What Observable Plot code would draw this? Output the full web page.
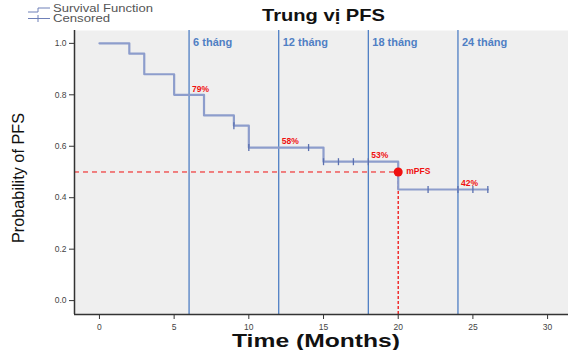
<!DOCTYPE html>
<html>
<head>
<meta charset="utf-8">
<script src="https://cdn.jsdelivr.net/npm/d3@7"></script>
<script src="https://cdn.jsdelivr.net/npm/@observablehq/plot@0.6"></script>
<style>
  html, body { margin: 0; padding: 0; background: #fff; }
  #chart { position: relative; width: 568px; height: 350px; overflow: hidden; }
  svg { font-family: "Liberation Sans", Arial, sans-serif; }
</style>
</head>
<body>
<div id="chart"></div>
<script>
// Kaplan-Meier step data (time in months, survival probability)
const stepTimes = [0, 2, 3, 5, 7, 9, 10, 15, 20, 26];
const stepProbs = [1.0, 0.96, 0.88, 0.80, 0.72, 0.68, 0.595, 0.54, 0.432, 0.432];
// Censored observations
const censorTimes = [9, 10, 14, 15, 16, 17, 18, 22, 24, 25, 26];
const censorProbs = [0.68, 0.595, 0.595, 0.54, 0.54, 0.54, 0.54, 0.432, 0.432, 0.432, 0.432];
// Reference month lines
const monthLines = [6, 12, 18, 24];
const monthLabels = ["6 tháng", "12 tháng", "18 tháng", "24 tháng"];
// Percent annotations
const pctTimes = [6, 12, 18, 24];
const pctProbs = [0.80, 0.595, 0.54, 0.432];
const pctLabels = ["79%", "58%", "53%", "42%"];
// Median PFS
const medianTime = 20;
const medianProb = 0.5;
const xTicks = [0, 5, 10, 15, 20, 25, 30];
const yTicks = [0, 0.2, 0.4, 0.6, 0.8, 1.0];

const xDomain = [-1.67, 31.4];
const yDomain = [-0.054, 1.05];

const steps = stepTimes.map((t, i) => ({t, p: stepProbs[i]}));
const censors = censorTimes.map((t, i) => ({t, p: censorProbs[i]}));
const months = monthLines.map((t, i) => ({t, label: monthLabels[i]}));
const pcts = pctTimes.map((t, i) => ({t, p: pctProbs[i], label: pctLabels[i]}));

const vtick = {draw(ctx, size) { const h = 3.5; ctx.moveTo(0, -h); ctx.lineTo(0, h); }};

const stepColor = "#8d9dcc";
const blue = "#4f7fc4";
const red = "#f01010";

const plot = Plot.plot({
  width: 568,
  height: 350,
  marginLeft: 74,
  marginRight: 0,
  marginTop: 30,
  marginBottom: 36,
  x: {domain: xDomain},
  y: {domain: yDomain},
  style: {fontFamily: "Liberation Sans, Arial, sans-serif", background: "#fff"},
  marks: [
    Plot.frame({fill: "#efefef", stroke: "none"}),
    Plot.ruleX(monthLines, {stroke: blue, strokeWidth: 1.3}),
    Plot.ruleY([medianProb], {x1: xDomain[0], x2: medianTime, stroke: red, strokeDasharray: "5,4", strokeWidth: 1}),
    Plot.ruleX([medianTime], {y1: yDomain[0], y2: medianProb, stroke: red, strokeDasharray: "3,2", strokeWidth: 1.3}),
    Plot.line(steps, {x: "t", y: "p", curve: "step-after", stroke: stepColor, strokeWidth: 2.2}),
    Plot.dot(censors, {x: "t", y: "p", symbol: vtick, stroke: "#5a70b0", strokeWidth: 1.3, fill: "none", r: 4}),
    Plot.dot([{t: medianTime, p: medianProb}], {x: "t", y: "p", r: 4.5, fill: red, stroke: "none"}),
    Plot.text([{t: medianTime, p: medianProb, label: "mPFS"}], {x: "t", y: "p", text: "label", dx: 8, dy: -1, textAnchor: "start", fill: red, fontWeight: "bold", fontSize: 8.5}),
    Plot.text(pcts, {x: "t", y: "p", text: "label", dx: 3, dy: -6, textAnchor: "start", fill: red, fontWeight: "bold", fontSize: 8.5}),
    Plot.text(months, {x: "t", text: "label", frameAnchor: "top", dx: 4, dy: 8, textAnchor: "start", fill: blue, fontWeight: "bold", fontSize: 11}),
    Plot.ruleX([xDomain[0]], {stroke: "#333", strokeWidth: 1.5}),
    Plot.ruleY([yDomain[0]], {stroke: "#333", strokeWidth: 1.5}),
    Plot.axisX({ticks: xTicks, tickSize: 5, tickPadding: 4, fontSize: 8.5, color: "#444", stroke: "#333", label: null}),
    Plot.axisY({ticks: yTicks, tickSize: 5, tickPadding: 3, fontSize: 8.5, color: "#444", stroke: "#333", tickFormat: d3.format(".1f"), label: null})
  ]
});

document.getElementById("chart").appendChild(plot);

const svg = d3.select(plot);
const ann = svg.append("g").attr("font-family", "Liberation Sans, Arial, sans-serif").attr("text-anchor", "start");

// Title
ann.append("text").attr("x", 262).attr("y", 21).attr("font-size", 17).attr("font-weight", "bold").attr("fill", "#111")
  .attr("textLength", 123).attr("lengthAdjust", "spacingAndGlyphs").text("Trung vị PFS");
// X axis title
ann.append("text").attr("x", 232).attr("y", 347).attr("font-size", 19).attr("font-weight", "bold").attr("fill", "#111")
  .attr("textLength", 168).attr("lengthAdjust", "spacingAndGlyphs").text("Time (Months)");
// Y axis title
ann.append("text").attr("transform", "translate(24,243) rotate(-90)").attr("font-size", 17).attr("fill", "#111")
  .attr("textLength", 130).attr("lengthAdjust", "spacingAndGlyphs").text("Probability of PFS");

// Legend (top-left)
const lg = ann.append("g").attr("font-size", 10).attr("fill", "#555");
lg.append("path").attr("d", "M28,12 H38 V8 H50").attr("fill", "none").attr("stroke", "#6f80b8").attr("stroke-width", 1);
lg.append("text").attr("x", 53).attr("y", 12).attr("textLength", 100).attr("lengthAdjust", "spacingAndGlyphs").text("Survival Function");
lg.append("path").attr("d", "M28,18.5 H50 M38,15 V22").attr("fill", "none").attr("stroke", "#6f80b8").attr("stroke-width", 1);
lg.append("text").attr("x", 53).attr("y", 22).attr("textLength", 57).attr("lengthAdjust", "spacingAndGlyphs").text("Censored");
</script>
</body>
</html>
